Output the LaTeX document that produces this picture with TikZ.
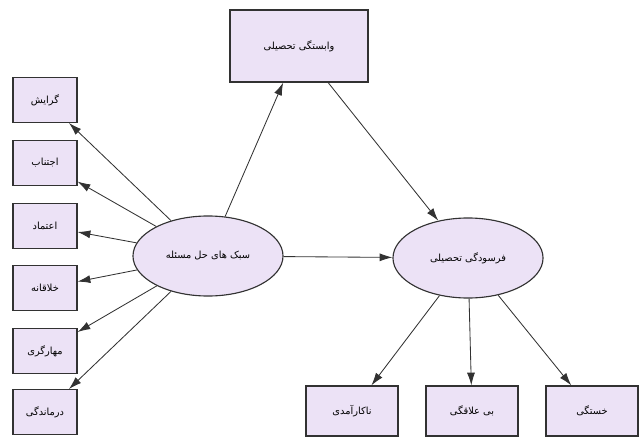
\documentclass[tikz,border=0pt]{standalone}
\usepackage{fontspec}
\newfontfamily\arabicfont[Script=Arabic]{DejaVu Sans}
\TeXXeTstate=1
\usetikzlibrary{shapes.geometric,arrows.meta}

\definecolor{boxfill}{RGB}{236,226,246}
\definecolor{edge}{RGB}{50,50,50}

\tikzset{
  varbox/.style={draw=edge,thick,fill=boxfill,minimum width=1.6cm,minimum height=1.12cm,font=\arabicfont\fontsize{7}{8}\selectfont},
  bigbox/.style={varbox,minimum width=2.3cm,minimum height=1.25cm},
  factor/.style={draw=edge,thick,fill=boxfill,ellipse,minimum width=3.75cm,minimum height=2cm,inner sep=0pt,font=\arabicfont\fontsize{7}{8}\selectfont},
  path/.style={edge,semithick,-{Latex[length=3.2mm,width=2mm]}}
}

\begin{document}
\begin{tikzpicture}[x=0.025cm,y=-0.025cm]
  \useasboundingbox (0,0) rectangle (642,439);

  % latent factors
  \node[factor] (styles) at (208,256) {\beginR سبک های حل مسئله\endR};
  \node[factor] (burnout) at (468,258) {\beginR فرسودگی تحصیلی\endR};
  \node[varbox,minimum width=3.45cm,minimum height=1.8cm] (depend) at (299,46) {\beginR وابستگی تحصیلی\endR};

  % problem solving styles
  \node[varbox] (s1) at (45,100) {\beginR گرایش\endR};
  \node[varbox] (s2) at (45,163) {\beginR اجتناب\endR};
  \node[varbox] (s3) at (45,226) {\beginR اعتماد\endR};
  \node[varbox] (s4) at (45,288) {\beginR خلاقانه\endR};
  \node[varbox] (s5) at (45,351) {\beginR مهارگری\endR};
  \node[varbox] (s6) at (45,412) {\beginR درماندگی\endR};

  % burnout parts
  \node[bigbox] (b1) at (352,411) {\beginR ناکارآمدی\endR};
  \node[bigbox] (b2) at (472,411) {\beginR بی علاقگی\endR};
  \node[bigbox] (b3) at (592,411) {\beginR خستگی\endR};

  \foreach \i in {1,...,6}
    \draw[path] (styles) -- (s\i);
  \draw[path] (styles) -- (depend);
  \draw[path] (depend) -- (burnout);
  \draw[path] (styles) -- (burnout);
  \foreach \i in {1,2,3}
    \draw[path] (burnout) -- (b\i);
\end{tikzpicture}
\end{document}
